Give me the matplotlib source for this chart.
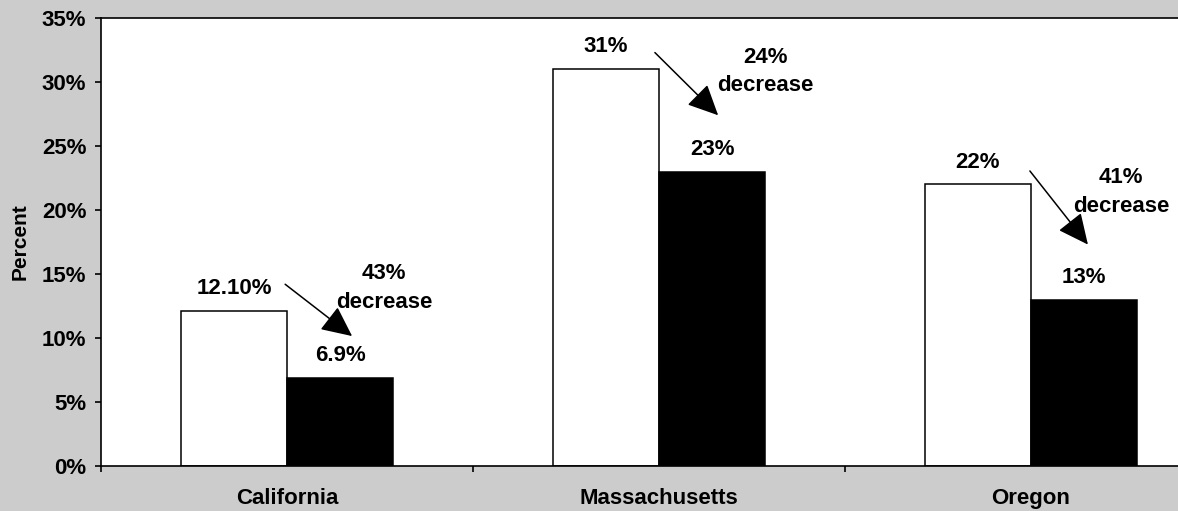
import numpy as np
import matplotlib
matplotlib.use("Agg")
import matplotlib.pyplot as plt

states = ["California", "Massachusetts", "Oregon"]
before = [12.1, 31, 22]
after = [6.9, 23, 13]
before_labels = ["12.10%", "31%", "22%"]
after_labels = ["6.9%", "23%", "13%"]
decrease_labels = ["43%\ndecrease", "24%\ndecrease", "41%\ndecrease"]
yticks = [0, 5, 10, 15, 20, 25, 30, 35]

# arrow (start, end) and the note beside it, in data units
arrow_start = [(-0.005, 14.2), (0.989, 32.3), (1.997, 23.05)]
arrow_end = [(0.175, 10.15), (1.159, 27.4), (2.153, 17.3)]
note_xy = [(0.261, 13.9), (1.285, 30.8), (2.242, 21.4)]

plt.rcParams["font.family"] = ["Liberation Sans", "DejaVu Sans"]
plt.rcParams["font.weight"] = "bold"

bg = "#cccccc"
fig = plt.figure(figsize=(11.78, 5.11), dpi=100, facecolor=bg)
# plot area runs past the right edge of the figure
ax = fig.add_axes([101 / 1178, 45 / 511, 1116 / 1178, 448 / 511])
ax.set_facecolor("white")

x = np.arange(len(states))
w = 0.285
ax.bar(x - w / 2, before, w, color="white", edgecolor="black", linewidth=1.1, zorder=2)
ax.bar(x + w / 2, after, w, color="black", edgecolor="black", linewidth=1.1, zorder=2)

fs = 16
for i in range(len(states)):
    ax.text(x[i] - w / 2, before[i] + 1.75, before_labels[i], ha="center", va="center",
            fontsize=fs, fontweight="bold")
    ax.text(x[i] + w / 2, after[i] + 1.75, after_labels[i], ha="center", va="center",
            fontsize=fs, fontweight="bold")
    ax.annotate("", xy=arrow_end[i], xytext=arrow_start[i],
                arrowprops=dict(arrowstyle="-|>,head_length=1.9,head_width=0.9",
                                mutation_scale=10, color="black", lw=1.1,
                                shrinkA=0, shrinkB=0))
    ax.text(note_xy[i][0], note_xy[i][1], decrease_labels[i], ha="center", va="center",
            fontsize=fs, fontweight="bold", linespacing=1.45)

ax.set_xlim(-0.5, 2.5)
ax.set_ylim(0, 35)
ax.set_yticks(yticks)
ax.set_yticklabels([f"{t}%" for t in yticks], fontsize=fs, fontweight="bold")
ax.set_xticks(x)
ax.set_xticklabels(states, fontsize=fs, fontweight="bold")
ax.set_xticks([-0.5, 0.5, 1.5, 2.5], minor=True)
ax.tick_params(axis="x", which="major", length=0, pad=16)
ax.tick_params(axis="x", which="minor", length=4.5, width=1.2, direction="out")
ax.tick_params(axis="y", length=4.5, width=1.2, pad=6)
ax.set_ylabel("Percent", fontsize=15, fontweight="bold", labelpad=9)
for s in ax.spines.values():
    s.set_linewidth(1.2)

fig.savefig("out.png", dpi=100, facecolor=bg)
